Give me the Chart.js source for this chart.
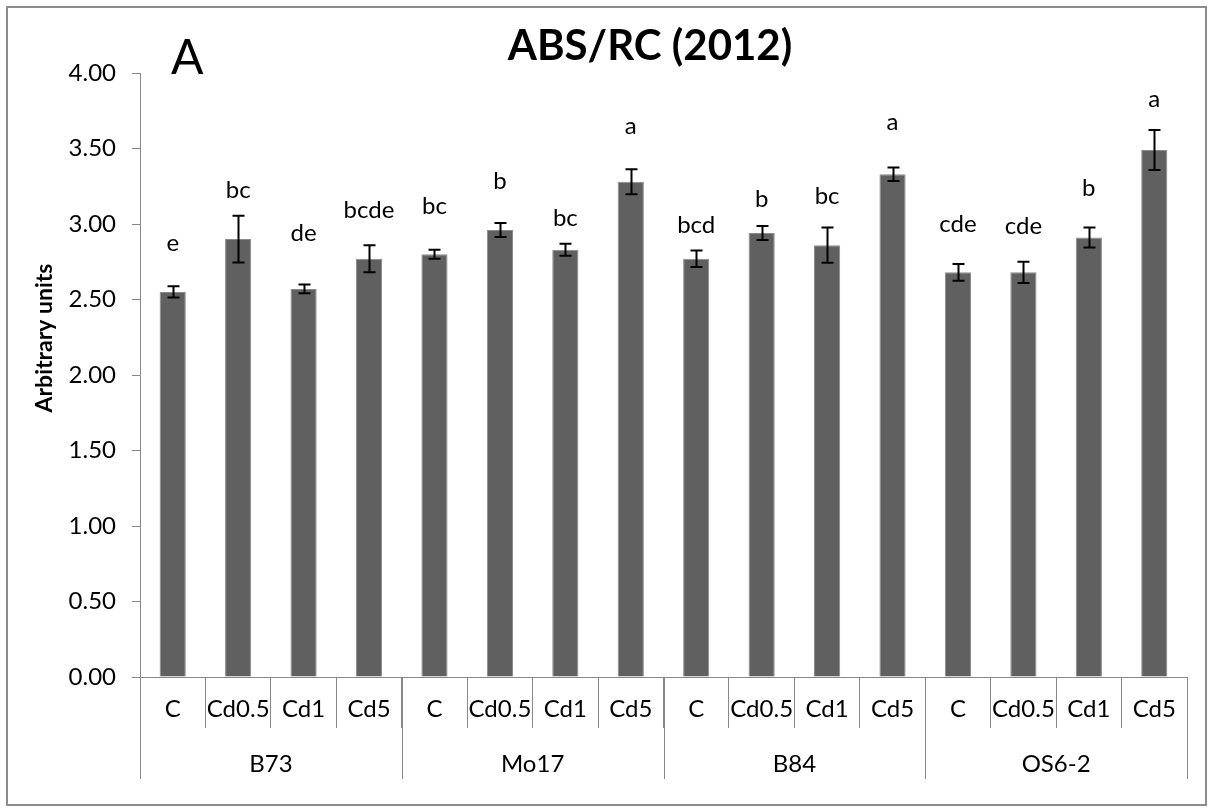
<!DOCTYPE html>
<html>
<head>
<meta charset="utf-8">
<script src="https://cdn.jsdelivr.net/npm/chart.js@4/dist/chart.umd.min.js"></script>
<style>
  html, body { margin: 0; padding: 0; background: #ffffff; }
  #wrap { width: 1213px; height: 812px; }
</style>
</head>
<body>
<div id="wrap"><canvas id="c" width="1213" height="812"></canvas></div>
<script>
// ABS/RC per genotype and Cd treatment
const genotypes = ['B73', 'Mo17', 'B84', 'OS6-2'];
const treatments = ['C', 'Cd0.5', 'Cd1', 'Cd5'];
const absRc = [2.55, 2.90, 2.57, 2.77,  2.80, 2.96, 2.83, 3.28,  2.77, 2.94, 2.86, 3.33,  2.68, 2.68, 2.91, 3.49];
const absRcErr = [0.037, 0.155, 0.029, 0.090,  0.030, 0.046, 0.040, 0.083,  0.055, 0.046, 0.116, 0.045,  0.055, 0.070, 0.066, 0.133];
const groupLetters = ['e', 'bc', 'de', 'bcde',  'bc', 'b', 'bc', 'a',  'bcd', 'b', 'bc', 'a',  'cde', 'cde', 'b', 'a'];
// value (in axis units) at which each significance letter is centred
const letterAt = [2.874, 3.225, 2.940, 3.093,  3.115, 3.280, 3.038, 3.644,  2.993, 3.164, 3.181, 3.677,  3.000, 2.982, 3.236, 3.826];
const yTicks = [0, 0.5, 1, 1.5, 2, 2.5, 3, 3.5, 4];

const categories = [];
genotypes.forEach(g => treatments.forEach(t => categories.push(t)));

const FONT = 'Lato, "Open Sans", sans-serif';
const AXIS_GREY = '#888888';

const decorations = {
  id: 'decorations',
  beforeDraw(chart) {
    const ctx = chart.ctx;
    ctx.save();
    ctx.fillStyle = '#ffffff';
    ctx.fillRect(0, 0, chart.width, chart.height);
    ctx.strokeStyle = '#8c8c8c';
    ctx.lineWidth = 2;
    ctx.strokeRect(7, 7, chart.width - 14, chart.height - 14);
    ctx.restore();
  },
  afterDatasetsDraw(chart) {
    const ctx = chart.ctx;
    const x = chart.scales.x;
    const y = chart.scales.y;
    const meta = chart.getDatasetMeta(0);
    ctx.save();

    // error bars
    ctx.strokeStyle = '#000000';
    ctx.lineWidth = 2;
    meta.data.forEach((bar, i) => {
      const top = y.getPixelForValue(absRc[i] + absRcErr[i]);
      const bot = y.getPixelForValue(absRc[i] - absRcErr[i]);
      const cx = Math.round(bar.x) + 0.5;
      ctx.beginPath();
      ctx.moveTo(cx, top); ctx.lineTo(cx, bot);
      ctx.moveTo(cx - 6, top); ctx.lineTo(cx + 6, top);
      ctx.moveTo(cx - 6, bot); ctx.lineTo(cx + 6, bot);
      ctx.stroke();
    });

    // significance letters
    ctx.fillStyle = '#000000';
    ctx.font = '24px ' + FONT;
    ctx.textAlign = 'center';
    ctx.textBaseline = 'middle';
    meta.data.forEach((bar, i) => {
      ctx.fillText(groupLetters[i], bar.x, y.getPixelForValue(letterAt[i]));
    });

    // genotype level of the category axis
    const step = x.getPixelForValue(1) - x.getPixelForValue(0);
    const base = chart.chartArea.bottom;
    ctx.strokeStyle = AXIS_GREY;
    ctx.lineWidth = 1;
    for (let g = 0; g <= genotypes.length; g++) {
      const edge = Math.round(x.getPixelForValue(g * treatments.length) - step / 2) + 0.5;
      ctx.beginPath();
      ctx.moveTo(edge, base);
      ctx.lineTo(edge, base + 102);
      ctx.stroke();
    }
    ctx.fillStyle = '#000000';
    genotypes.forEach((g, k) => {
      const first = x.getPixelForValue(k * treatments.length);
      const last = x.getPixelForValue((k + 1) * treatments.length - 1);
      ctx.fillText(g, (first + last) / 2, base + 87);
    });

    // chart title, panel letter, axis title
    ctx.font = 'bold 42px ' + FONT;
    ctx.fillText('ABS/RC (2012)', 650, 46);
    ctx.font = '48px ' + FONT;
    ctx.textAlign = 'left';
    ctx.fillText('A', 171, 59);
    ctx.translate(45, 338);
    ctx.rotate(-Math.PI / 2);
    ctx.textAlign = 'center';
    ctx.font = 'bold 23px ' + FONT;
    ctx.fillText('Arbitrary units', 0, 0);
    ctx.restore();
  }
};

new Chart(document.getElementById('c'), {
  type: 'bar',
  data: {
    labels: categories,
    datasets: [{
      data: absRc,
      backgroundColor: '#606060',
      borderColor: '#8a8a8a',
      borderWidth: 1,
      barPercentage: 0.4,
      categoryPercentage: 1.0
    }]
  },
  options: {
    responsive: false,
    animation: false,
    devicePixelRatio: 1,
    layout: { padding: { left: 0, top: 73, right: 26, bottom: 0 } },
    plugins: {
      legend: { display: false },
      title: { display: false },
      tooltip: { enabled: false }
    },
    scales: {
      x: {
        offset: true,
        afterFit(scale) { scale.height = 135; },
        grid: {
          display: true,
          offset: true,
          drawOnChartArea: false,
          drawTicks: true,
          tickLength: 51,
          color: AXIS_GREY,
          lineWidth: 1
        },
        border: { display: true, color: AXIS_GREY, width: 1 },
        ticks: {
          color: '#000000',
          font: { family: FONT, size: 24 },
          padding: -33,
          maxRotation: 0,
          autoSkip: false
        }
      },
      y: {
        min: 0,
        max: 4,
        afterFit(scale) { scale.width = 140; },
        afterBuildTicks(scale) { scale.ticks = yTicks.map(v => ({ value: v })); },
        grid: {
          display: true,
          drawOnChartArea: false,
          drawTicks: true,
          tickLength: 8,
          color: AXIS_GREY,
          lineWidth: 1
        },
        border: { display: true, color: AXIS_GREY, width: 1 },
        ticks: {
          color: '#000000',
          font: { family: FONT, size: 24 },
          padding: 16,
          callback: v => Number(v).toFixed(2)
        }
      }
    }
  },
  plugins: [decorations]
});
</script>
</body>
</html>
